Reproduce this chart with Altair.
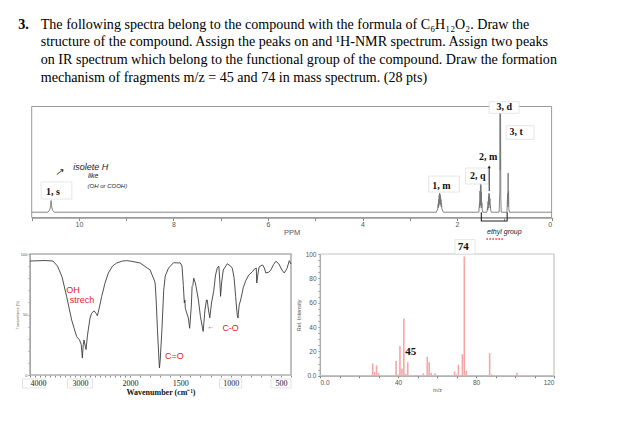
import altair as alt
import pandas as pd

W, H = 609, 411
SERIF = "Liberation Serif"
SANS = "Liberation Sans"

# ---------------- header ----------------
header_num = ["3."]
header_lines = [
    "The following spectra belong to the compound with the formula of C₆H₁₂O₂. Draw the",
    "structure of the compound. Assign the peaks on and ¹H-NMR spectrum. Assign two peaks",
    "on IR spectrum which belong to the functional group of the compound. Draw the formation",
    "mechanism of fragments m/z = 45 and 74 in mass spectrum. (28 pts)",
]

# ---------------- 1H NMR ----------------
nmr_ppm = [11.0, 10.66, 10.62, 10.60, 10.59, 10.58, 10.56, 10.52,
           2.44, 2.41, 2.40, 2.395, 2.39, 2.385, 2.38, 2.375, 2.37, 2.365, 2.36, 2.355, 2.35, 2.345, 2.34, 2.335, 2.33, 2.32, 2.29,
           1.54, 1.525, 1.52, 1.515, 1.51, 1.505, 1.50, 1.495, 1.49, 1.485, 1.48, 1.475, 1.47, 1.455,
           1.37, 1.355, 1.35, 1.345, 1.34, 1.335, 1.33, 1.325, 1.32, 1.315, 1.31, 1.305, 1.30, 1.295, 1.29, 1.275,
           1.11, 1.095, 1.09, 1.085, 1.08, 1.075, 1.065,
           0.945, 0.93, 0.925, 0.92, 0.915, 0.91, 0.905, 0.90, 0.89,
           0.0]
nmr_int = [0, 0, 2, 6, 11, 6, 2, 0,
           0, 3, 8, 4, 12, 6, 16, 8, 18, 9, 17, 8, 15, 7, 12, 5, 8, 3, 0,
           0, 9, 4, 20, 6, 27, 8, 26, 7, 19, 4, 9, 3, 0,
           0, 5, 2, 10, 4, 15, 7, 18, 8, 17, 7, 13, 4, 7, 2, 0,
           0, 20, 98, 40, 100, 15, 0,
           0, 18, 5, 37, 8, 20, 3, 2, 0,
           0]
nmr_ticks = list(range(0, 12))

nmr_lbl_text = ["1, s", "1, m", "2, q", "2, m", "3, d", "3, t"]
nmr_lbl_ppm = [10.55, 2.33, 1.56, 1.34, 1.00, 0.75]
nmr_lbl_int = [19.4, 25.0, 34.2, 52.2, 99.2, 76.2]

nmr_box_ppm0 = [10.80, 2.60, 1.82, 1.32, 0.96]
nmr_box_ppm1 = [10.15, 1.95, 1.34, 0.69, 0.37]
nmr_box_int0 = [12.5, 19.1, 26.7, 93.6, 69.0]
nmr_box_int1 = [28.6, 34.2, 41.8, 104.5, 81.8]

nmr_arrow_ppm = [1.32]
nmr_arrow_from = [20]
nmr_arrow_to = [43]

note_big = ["isolete H"]
note_big_ppm, note_big_int = [9.75], [43]
note_mid = ["like"]
note_mid_ppm, note_mid_int = [9.70], [34.5]
note_small = ["(OH or COOH)"]
note_small_ppm, note_small_int = [9.40], [25]
note_arrow = ["↗"]
note_arrow_ppm, note_arrow_int = [10.42], [38]

bracket_ppm = [1.487, 1.487, 0.94, 0.94]
bracket_int = [0, -8.3, -8.3, 0]
ethyl_text = ["ethyl group"]
ethyl_ppm, ethyl_int = [1.0], [-18.4]
dots_ppm0, dots_ppm1, dots_int = [1.38], [1.02], [-25.4]

# ---------------- IR ----------------
ir_wn = [4000, 3700, 3540, 3450, 3360, 3267, 3167, 3067, 3010, 2975, 2953, 2935, 2920, 2880, 2850,
         2800, 2767, 2720, 2680, 2653, 2620, 2567, 2500, 2433, 2350, 2267, 2150, 2067, 2000, 1900,
         1800, 1760, 1750, 1740, 1727, 1712, 1707, 1700, 1683, 1665, 1650, 1617, 1567, 1500, 1483,
         1470, 1460, 1455, 1450, 1420, 1407, 1390, 1383, 1375, 1367, 1350, 1320, 1300, 1273, 1255,
         1240, 1233, 1220, 1207, 1190, 1167, 1150, 1133, 1117, 1108, 1100, 1090, 1073, 1033, 1000,
         983, 965, 950, 935, 927, 915, 900, 875, 850, 820, 783, 765, 745, 740, 730,
         717, 683, 665, 650, 620, 600, 575, 550, 520, 490, 467, 440, 417, 400]
ir_t = [94.2, 94.6, 94.2, 90, 81.2, 64.7, 45.5, 31.7, 29, 25, 14, 25, 29, 21, 33,
        47, 51, 53, 51, 49, 54.5, 64.7, 76, 84.3, 90, 92.6, 94.2, 94.5, 94.2, 92.6,
        86.8, 78.5, 76, 62, 37, 12.4, 5.8, 12.4, 37, 70, 81.8, 88.4, 92.8, 92.6, 90,
        74, 59.5, 62, 55, 47, 38.6, 57.9, 73, 74, 80, 76, 62, 48.2, 36, 53.7,
        62, 62, 53.7, 47.2, 59.5, 70, 82.6, 88.4, 90, 78.5, 65, 76, 86.8, 92, 90,
        88.2, 80, 64.7, 50, 47.1, 57.9, 62, 72, 78, 82.6, 85.4, 87.5, 88.4, 76, 82.6,
        89.3, 91, 88.4, 84.3, 85, 86.8, 91, 94, 91.7, 86.8, 84.3, 88, 94.5, 91.7]
assert len(ir_wn) == len(ir_t)
ir_major = [4000, 3000, 2000, 1500, 1000, 500]
ir_minor = list(range(400, 4001, 100))
ir_yticks = list(range(0, 101, 10))
ir_box_wn0 = [4150, 3250, 1110, 600]
ir_box_wn1 = [3700, 2750, 890, 400]
ir_box_t0 = [-3.3] * 4
ir_box_t1 = [-10.7] * 4

ir_notes = ["OH", "strech", "C=O", "C-O"]
ir_notes_wn = [3140, 2960, 1560, 1000]
ir_notes_t = [70, 62, 15.7, 39]
ir_arrow = ["←"]
ir_arrow_wn, ir_arrow_t = [1195], [40]

# ---------------- MS ----------------
ms_mz = [27, 28, 29, 30, 39, 40, 41, 42, 43, 44, 45, 50, 53, 55, 56, 57, 59, 69, 70, 71, 73, 74, 75, 83, 87, 88, 101]
ms_rel = [10, 3, 8.5, 2, 12, 1, 24.5, 6, 47, 1.5, 11, 0.5, 2, 15.5, 11, 2.5, 2, 3.5, 1, 9, 17.6, 98, 4, 0.5, 18.5, 1, 2.5]
ms_xticks = list(range(0, 121, 10))
ms_yticks = list(range(0, 101, 5))
ms_lbl = ["45", "74"]
ms_lbl_mz = [46.5, 73.5]
ms_lbl_rel = [19.7, 105.5]
ms_box_mz0, ms_box_mz1 = [69.2], [79.5]
ms_box_rel0, ms_box_rel1 = [100], [111.8]

# ---------------- scales (panel placement) ----------------
HX = alt.Scale(domain=[0, 1], range=[10.3, 32.7], nice=False, zero=False)
HY = alt.Scale(domain=[0, 3], range=[16.5, 70], nice=False, zero=False)
NX = alt.Scale(domain=[11, 0], range=[23.7, 543.6], nice=False, zero=False)
NY = alt.Scale(domain=[-5, 100], range=[209.5, 98.5], nice=False, zero=False)
IX = alt.Scale(domain=[4000, 2000, 400], range=[22, 122, 283], nice=False, zero=False)
IY = alt.Scale(domain=[0, 100], range=[367, 246], nice=False, zero=False)
MX = alt.Scale(domain=[0, 120], range=[312, 546], nice=False, zero=False)
MY = alt.Scale(domain=[0, 100], range=[367.7, 246], nice=False, zero=False)


def qx(f, s, axis=None):
    return alt.X(f, type="quantitative", scale=s, axis=axis)


def qy(f, s, axis=None):
    return alt.Y(f, type="quantitative", scale=s, axis=axis)


def qx2(f):
    return alt.X2(f)


def qy2(f):
    return alt.Y2(f)


layers = []

# header
layers.append(alt.Chart(pd.DataFrame({"c": [0], "l": [0], "t": header_num})).mark_text(
    align="left", baseline="middle", font=SERIF, fontSize=14.1, fontWeight="bold", color="#000"
).encode(x=qx("c", HX), y=qy("l", HY), text="t:N"))
layers.append(alt.Chart(pd.DataFrame({"c": [1] * 4, "l": [0, 1, 2, 3], "t": header_lines})).mark_text(
    align="left", baseline="middle", font=SERIF, fontSize=14.1, color="#000"
).encode(x=qx("c", HX), y=qy("l", HY), text="t:N"))

# NMR frame
layers.append(alt.Chart(pd.DataFrame({"a": [11], "b": [0], "c": [-5], "d": [100]})).mark_rect(
    filled=False, color="#9a9a9a", strokeWidth=1
).encode(x=qx("a", NX), x2=qx2("b"), y=qy("c", NY), y2=qy2("d")))

nmr_axis = alt.Axis(orient="bottom", offset=209.5 - H, values=nmr_ticks,
                    labelExpr="datum.value % 2 == 0 && datum.value <= 10 ? datum.label : ''",
                    tickSize=3, tickColor="#888", domainColor="#999", domainWidth=1.6,
                    labelFont=SANS, labelFontSize=7, labelColor="#555", labelPadding=0,
                    title="PPM", titleFont=SANS, titleFontSize=7.5, titleFontWeight="normal",
                    titleColor="#555", titlePadding=1, grid=False)
layers.append(alt.Chart(pd.DataFrame({"ppm": nmr_ppm, "i": nmr_int})).mark_line(
    color="#767676", strokeWidth=0.9
).encode(x=qx("ppm", NX, nmr_axis), y=qy("i", NY)))

# ethyl bracket
layers.append(alt.Chart(pd.DataFrame({"o": [0, 1, 2, 3], "ppm": bracket_ppm, "i": bracket_int})).mark_line(
    color="#222", strokeWidth=1.1
).encode(x=qx("ppm", NX), y=qy("i", NY), order="o:Q"))
layers.append(alt.Chart(pd.DataFrame({"a": dots_ppm0, "b": dots_ppm1, "i": dots_int})).mark_rule(
    color="#e8343a", strokeWidth=1.6, strokeDash=[1.5, 1.5]
).encode(x=qx("a", NX), x2=qx2("b"), y=qy("i", NY)))
layers.append(alt.Chart(pd.DataFrame({"ppm": ethyl_ppm, "i": ethyl_int, "t": ethyl_text})).mark_text(
    font=SANS, fontStyle="italic", fontSize=7, color="#222"
).encode(x=qx("ppm", NX), y=qy("i", NY), text="t:N"))

# NMR label boxes + labels
layers.append(alt.Chart(pd.DataFrame({"a": nmr_box_ppm0, "b": nmr_box_ppm1, "c": nmr_box_int0, "d": nmr_box_int1})).mark_rect(
    fill="white", stroke="#e0e0e0", strokeWidth=0.8
).encode(x=qx("a", NX), x2=qx2("b"), y=qy("c", NY), y2=qy2("d")))
layers.append(alt.Chart(pd.DataFrame({"ppm": nmr_lbl_ppm, "i": nmr_lbl_int, "t": nmr_lbl_text})).mark_text(
    font=SERIF, fontWeight="bold", fontSize=10, color="#111", baseline="middle"
).encode(x=qx("ppm", NX), y=qy("i", NY), text="t:N"))
layers.append(alt.Chart(pd.DataFrame({"ppm": nmr_arrow_ppm, "a": nmr_arrow_from, "b": nmr_arrow_to})).mark_rule(
    color="#222", strokeWidth=1
).encode(x=qx("ppm", NX), y=qy("a", NY), y2=qy2("b")))
layers.append(alt.Chart(pd.DataFrame({"ppm": nmr_arrow_ppm, "b": nmr_arrow_to})).mark_point(
    shape="triangle-up", filled=True, size=10, color="#222", opacity=1
).encode(x=qx("ppm", NX), y=qy("b", NY)))

# handwritten notes in NMR
for txt, pp, ii, fs in [(note_big, note_big_ppm, note_big_int, 9),
                        (note_mid, note_mid_ppm, note_mid_int, 7),
                        (note_small, note_small_ppm, note_small_int, 6),
                        (note_arrow, note_arrow_ppm, note_arrow_int, 10)]:
    layers.append(alt.Chart(pd.DataFrame({"ppm": pp, "i": ii, "t": txt})).mark_text(
        font=SANS, fontStyle="italic", fontSize=fs, color="#222", baseline="middle"
    ).encode(x=qx("ppm", NX), y=qy("i", NY), text="t:N"))

# IR frame + minor ticks
ir_minor_axis = alt.Axis(orient="bottom", offset=367 - H, values=ir_minor, labels=False, domain=False,
                         tickSize=2, tickColor="#888", title=None, grid=False)
layers.append(alt.Chart(pd.DataFrame({"a": [4000], "b": [400], "c": [0], "d": [100]})).mark_rect(
    filled=False, color="#b0b0b0", strokeWidth=1.6
).encode(x=qx("a", IX, ir_minor_axis), x2=qx2("b"), y=qy("c", IY), y2=qy2("d")))

# faint boxes behind some IR tick labels
layers.append(alt.Chart(pd.DataFrame({"a": ir_box_wn0, "b": ir_box_wn1, "c": ir_box_t0, "d": ir_box_t1})).mark_rect(
    fill="white", stroke="#dcdcdc", strokeWidth=0.8
).encode(x=qx("a", IX), x2=qx2("b"), y=qy("c", IY), y2=qy2("d")))

ir_xaxis = alt.Axis(orient="bottom", offset=367 - H, values=ir_major, format="d", tickSize=0,
                    domain=False, labelFont=SERIF, labelFontSize=8, labelColor="#222", labelPadding=4,
                    title="Wavenumber (cm⁻¹)", titleFont=SERIF, titleFontSize=8, titleFontWeight="bold",
                    titleColor="#111", titlePadding=1, grid=False, zindex=1)
ir_yaxis = alt.Axis(orient="left", offset=-22, values=ir_yticks,
                    labelExpr="datum.value % 50 == 0 ? datum.label : ''",
                    tickSize=2, tickColor="#888", domainColor="#888", labelFont=SANS, labelFontSize=4,
                    labelColor="#555", labelPadding=1, title="Transmittance (%)", titleFont=SANS,
                    titleFontSize=3.5, titleFontWeight="normal", titleColor="#666", titlePadding=1, grid=False)
layers.append(alt.Chart(pd.DataFrame({"wn": ir_wn, "t": ir_t})).mark_line(
    color="#3c3c3c", strokeWidth=0.9
).encode(x=qx("wn", IX, ir_xaxis), y=qy("t", IY, ir_yaxis)))

layers.append(alt.Chart(pd.DataFrame({"wn": ir_notes_wn, "t": ir_notes_t, "s": ir_notes})).mark_text(
    font=SANS, fontSize=9, color="#e31b23", baseline="middle"
).encode(x=qx("wn", IX), y=qy("t", IY), text="s:N"))
layers.append(alt.Chart(pd.DataFrame({"wn": ir_arrow_wn, "t": ir_arrow_t, "s": ir_arrow})).mark_text(
    font=SANS, fontSize=7, color="#e31b23", baseline="middle"
).encode(x=qx("wn", IX), y=qy("t", IY), text="s:N"))

# MS frame
layers.append(alt.Chart(pd.DataFrame({"a": [0], "b": [120], "c": [0], "d": [100]})).mark_rect(
    filled=False, color="#c4c4c4", strokeWidth=1.2
).encode(x=qx("a", MX), x2=qx2("b"), y=qy("c", MY), y2=qy2("d")))

ms_xaxis = alt.Axis(orient="bottom", offset=367.7 - H, values=ms_xticks,
                    labelExpr="datum.value % 40 == 0 ? (datum.value == 0 ? '0.0' : datum.label) : ''",
                    tickSize=2, tickColor="#777", domainColor="#888", labelFont=SANS, labelFontSize=6.5,
                    labelColor="#555", labelPadding=2, title="m/z", titleFont=SANS, titleFontSize=5.5,
                    titleFontWeight="normal", titleColor="#555", titlePadding=1, grid=False)
ms_yaxis = alt.Axis(orient="left", offset=-312, values=ms_yticks,
                    labelExpr="datum.value % 20 == 0 ? (datum.value == 0 ? '0.0' : datum.label) : ''",
                    tickSize=2, tickColor="#777", domainColor="#888", labelFont=SANS, labelFontSize=6.5,
                    labelColor="#555", labelPadding=2, title="Rel. Intensity", titleFont=SANS,
                    titleFontSize=5.5, titleFontWeight="normal", titleColor="#555", titlePadding=4, grid=False)
layers.append(alt.Chart(pd.DataFrame({"mz": ms_mz, "r": ms_rel})).mark_rule(
    color="#f6a6a6", strokeWidth=1.6
).encode(x=qx("mz", MX, ms_xaxis), y=qy("r", MY, ms_yaxis), y2=alt.Y2(datum=0)))

layers.append(alt.Chart(pd.DataFrame({"a": ms_box_mz0, "b": ms_box_mz1, "c": ms_box_rel0, "d": ms_box_rel1})).mark_rect(
    fill="white", stroke="#e0e0e0", strokeWidth=0.8
).encode(x=qx("a", MX), x2=qx2("b"), y=qy("c", MY), y2=qy2("d")))
layers.append(alt.Chart(pd.DataFrame({"mz": ms_lbl_mz, "r": ms_lbl_rel, "t": ms_lbl})).mark_text(
    font=SERIF, fontWeight="bold", fontSize=11, color="#111", baseline="middle"
).encode(x=qx("mz", MX), y=qy("r", MY), text="t:N"))

chart = alt.layer(*layers).resolve_scale(x="independent", y="independent").properties(
    width=W, height=H, padding=0, autosize=alt.AutoSizeParams(type="none")
).configure_view(stroke=None)

chart.save("out.html", embed_options={"renderer": "svg", "actions": False})
